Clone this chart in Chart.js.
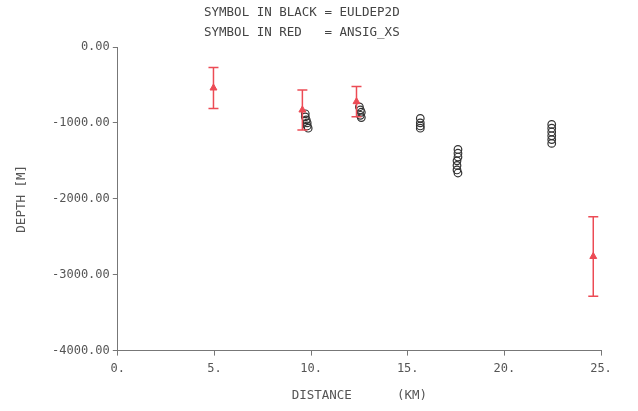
<!DOCTYPE html>
<html>
<head>
<meta charset="utf-8">
<script src="https://cdn.jsdelivr.net/npm/chart.js@4/dist/chart.umd.min.js"></script>
<style>
  body { margin: 0; background: #fff; }
  #wrap { width: 638px; height: 411px; }
</style>
</head>
<body>
<div id="wrap"><canvas id="depth-chart" width="638" height="411"></canvas></div>
<script>
// Titik hitam (EULDEP2D): jarak [km] dan kedalaman [m]
const blackX = [9.7, 9.7, 9.75, 9.8, 9.8, 9.85,
                12.5, 12.55, 12.6, 12.55, 12.6,
                15.65, 15.65, 15.65, 15.65,
                17.6, 17.6, 17.6, 17.55, 17.55, 17.55, 17.6,
                22.45, 22.45, 22.45, 22.45, 22.45, 22.45];
const blackY = [-880, -920, -960, -1000, -1040, -1070,
                -790, -830, -860, -900, -930,
                -940, -1000, -1040, -1070,
                -1350, -1400, -1450, -1500, -1560, -1620, -1660,
                -1020, -1070, -1120, -1170, -1220, -1270];

// Titik merah (ANSIG_XS) dengan error bar
const redX = [4.95, 9.55, 12.35, 24.6];
const redY = [-540, -830, -720, -2760];
const redErr = [270, 265, 200, 525];

// Label sumbu
const xTicks = [0, 5, 10, 15, 20, 25];
const yTicks = [0, -1000, -2000, -3000, -4000];
const headerLines = ['SYMBOL IN BLACK = EULDEP2D', 'SYMBOL IN RED   = ANSIG_XS'];

const RED = '#ec4b55';
const BLACK = '#333333';
const AXIS = '#777777';
const TEXT = '#555555';
const MONO = "'DejaVu Sans Mono', monospace";

// Dataset error bar: satu garis vertikal per titik, ujungnya pakai pointStyle 'line'
const errorSets = redX.map((x, i) => ({
    data: [{ x: x, y: redY[i] + redErr[i] }, { x: x, y: redY[i] - redErr[i] }],
    showLine: true,
    borderColor: RED,
    borderWidth: 1.5,
    pointStyle: 'line',
    pointRadius: 5,
    pointBorderColor: RED,
    pointBorderWidth: 1.5,
    order: 1
}));

// Plugin untuk teks keterangan di atas chart
const headerPlugin = {
    id: 'header',
    afterDraw(chart) {
        const ctx = chart.ctx;
        ctx.save();
        ctx.font = '12.5px ' + MONO;
        ctx.fillStyle = '#444';
        ctx.textAlign = 'left';
        ctx.textBaseline = 'middle';
        headerLines.forEach((line, i) => ctx.fillText(line, 204, 13 + i * 20));
        ctx.restore();
    }
};

const ctx = document.getElementById('depth-chart').getContext('2d');
new Chart(ctx, {
    type: 'scatter',
    data: {
        datasets: [
            {
                data: blackX.map((x, i) => ({ x: x, y: blackY[i] })),
                pointStyle: 'circle',
                pointRadius: 3.8,
                backgroundColor: 'rgba(0,0,0,0)',
                borderColor: BLACK,
                borderWidth: 1.2,
                order: 2
            },
            {
                data: redX.map((x, i) => ({ x: x, y: redY[i] })),
                pointStyle: 'triangle',
                pointRadius: 4,
                backgroundColor: RED,
                borderColor: RED,
                borderWidth: 1,
                order: 0
            },
            ...errorSets
        ]
    },
    options: {
        responsive: false,
        animation: false,
        layout: { padding: { left: 14, right: 37, top: 47, bottom: 8 } },
        plugins: {
            legend: { display: false },
            tooltip: { enabled: false }
        },
        scales: {
            x: {
                type: 'linear',
                min: 0,
                max: 25,
                afterBuildTicks: axis => { axis.ticks = xTicks.map(v => ({ value: v })); },
                ticks: {
                    callback: v => v + '.',
                    color: TEXT,
                    font: { family: MONO, size: 12 },
                    maxRotation: 0,
                    padding: 6
                },
                grid: { drawOnChartArea: false, drawTicks: true, tickLength: 5, color: AXIS },
                border: { display: true, color: AXIS, width: 1 },
                title: {
                    display: true,
                    text: 'DISTANCE      (KM)',
                    color: TEXT,
                    font: { family: MONO, size: 12.5 },
                    padding: { top: 6, bottom: 0 }
                }
            },
            y: {
                type: 'linear',
                min: -4000,
                max: 0,
                afterBuildTicks: axis => { axis.ticks = yTicks.map(v => ({ value: v })); },
                ticks: {
                    callback: v => v.toFixed(2),
                    color: TEXT,
                    font: { family: MONO, size: 12 },
                    padding: 3
                },
                grid: { drawOnChartArea: false, drawTicks: true, tickLength: 5, color: AXIS },
                border: { display: true, color: AXIS, width: 1 },
                title: {
                    display: true,
                    text: 'DEPTH [M]',
                    color: TEXT,
                    font: { family: MONO, size: 12.5 },
                    padding: { top: 0, bottom: 20 }
                }
            }
        }
    },
    plugins: [headerPlugin]
});
</script>
</body>
</html>
